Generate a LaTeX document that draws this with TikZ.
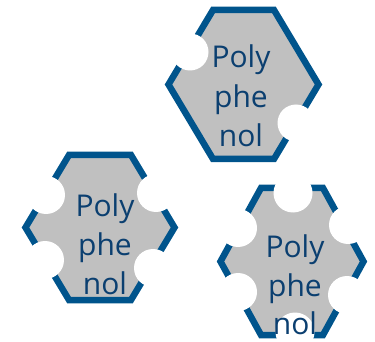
\documentclass[tikz,border=0pt]{standalone}
\usepackage{fontspec}
\setmainfont{Open Sans}
\definecolor{hexblue}{HTML}{00548C}
\definecolor{hexgray}{HTML}{C0C0C0}
\definecolor{hextext}{HTML}{0B3F70}
\newcommand\myhex[5]{%
  \draw[hexstyle] ({#1-#3},#2) -- ({#1-#5},{#2-#4}) -- ({#1+#5},{#2-#4}) -- ({#1+#3},#2) -- ({#1+#5},{#2+#4}) -- ({#1-#5},{#2+#4}) -- cycle;}
\begin{document}
\begin{tikzpicture}[x=1pt,y=-1pt,
  hexstyle/.style={fill=hexgray, draw=hexblue, line width=6.5pt, line join=miter},
  notch/.style={fill=white, draw=none},
  lbl/.style={font=\fontsize{30}{36}\selectfont, text=hextext, anchor=base, inner sep=0pt}]
\useasboundingbox (0,0) rectangle (375,342);
% hexagon 1 (top)
\myhex{243.5}{84.5}{75}{74.5}{30.5}
\fill[notch] (190,52) circle (18.5);
\fill[notch] (296,123) circle (18.5);
\node[lbl] (h1a) at (241,68) {Poly};
\node[lbl] (h1b) at (241,108) {phe};
\node[lbl] (h1c) at (241,147) {nol};
% hexagon 2 (left)
\myhex{100}{227.5}{74.5}{72.5}{31}
\fill[notch] (46,195) circle (19);
\fill[notch] (156,193) circle (19);
\fill[notch] (153,268) circle (19);
\fill[notch] (45,260) circle (19);
\node[lbl] (h2a) at (105,216) {Poly};
\node[lbl] (h2b) at (105,255) {phe};
\node[lbl] (h2c) at (105,294) {nol};
% hexagon 3 (right)
\myhex{292}{261.5}{71.5}{73.5}{31}
\fill[notch] (293,193) circle (19.5);
\fill[notch] (238,228) circle (19);
\fill[notch] (348,225) circle (19);
\fill[notch] (238,292) circle (19);
\fill[notch] (347,295) circle (19);
\fill[notch] (295,332) circle (19.5);
\node[lbl] (h3a) at (295,257) {Poly};
\node[lbl] (h3b) at (295,296) {phe};
\node[lbl] (h3c) at (295,334) {nol};
\end{tikzpicture}
\end{document}
